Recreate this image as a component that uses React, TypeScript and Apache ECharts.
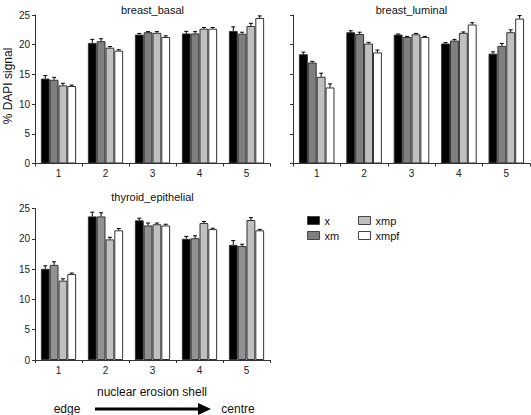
import React, { useEffect, useRef } from "react";
import * as echarts from "echarts";

const categories = ["1", "2", "3", "4", "5"];
const seriesNames = ["x", "xm", "xmp", "xmpf"];
const panelTitles = ["breast_basal", "breast_luminal", "thyroid_epithelial"];
const yTicks = [0, 25, 5];

const basalValues = [
  [14.3, 20.3, 21.7, 21.9, 22.3],
  [14.1, 20.6, 22.1, 21.9, 21.85],
  [13.15, 19.5, 22.0, 22.7, 23.15],
  [13.05, 19.0, 21.3, 22.7, 24.5],
];
const basalErrors = [
  [0.5, 0.6, 0.2, 0.35, 0.7],
  [0.4, 0.4, 0.1, 0.3, 0.25],
  [0.35, 0.2, 0.2, 0.2, 0.45],
  [0.15, 0.15, 0.2, 0.2, 0.35],
];

const luminalValues = [
  [18.4, 22.1, 21.7, 20.2, 18.5],
  [17.0, 21.8, 21.3, 20.7, 19.8],
  [14.6, 20.2, 21.75, 22.0, 22.1],
  [12.8, 18.7, 21.3, 23.4, 24.4],
];
const luminalErrors = [
  [0.35, 0.25, 0.1, 0.15, 0.3],
  [0.2, 0.3, 0.1, 0.2, 0.4],
  [0.6, 0.2, 0.15, 0.15, 0.4],
  [0.6, 0.4, 0.1, 0.3, 0.5],
];

const thyroidValues = [
  [15.05, 23.7, 23.05, 20.0, 19.0],
  [15.7, 23.7, 22.2, 20.1, 18.8],
  [13.1, 19.9, 22.4, 22.6, 23.1],
  [14.2, 21.4, 22.2, 21.6, 21.4],
];
const thyroidErrors = [
  [0.5, 0.7, 0.35, 0.4, 0.7],
  [0.5, 0.6, 0.4, 0.4, 0.3],
  [0.3, 0.35, 0.2, 0.25, 0.4],
  [0.15, 0.3, 0.2, 0.15, 0.15],
];

const FONT = "Liberation Sans, Arial, Helvetica, sans-serif";
const topColors = ["#000000", "#7f7f7f", "#c0c0c0", "#ffffff"];
const bottomColors = ["#000000", "#929292", "#c0c0c0", "#ffffff"];
const GAP = 0.25;

const grids = [
  { left: 35, top: 15, width: 235, height: 148.5 },
  { left: 293, top: 15, width: 237, height: 148.5 },
  { left: 35, top: 208.5, width: 235, height: 151.5 },
];

function App() {
  const ref = useRef<HTMLDivElement>(null);
  useEffect(() => {
    if (!ref.current) return;
    const chart = echarts.init(ref.current, null, { renderer: "svg" });
    const panels = [
      { values: basalValues, errors: basalErrors, colors: topColors },
      { values: luminalValues, errors: luminalErrors, colors: topColors },
      { values: thyroidValues, errors: thyroidErrors, colors: bottomColors },
    ];
    const series: any[] = [];
    panels.forEach((p, gi) => {
      seriesNames.forEach((name, si) => {
        series.push({
          type: "bar",
          name,
          xAxisIndex: gi,
          yAxisIndex: gi,
          data: p.values[si],
          barGap: 0,
          barCategoryGap: GAP * 100 + "%",
          itemStyle: { color: p.colors[si], borderColor: "#333", borderWidth: 1 },
          emphasis: { disabled: true },
        });
      });
      seriesNames.forEach((name, si) => {
        const data = p.values[si].map((v, ci) => [ci, v, p.errors[si][ci]]);
        series.push({
          type: "custom",
          name: "err_" + name,
          xAxisIndex: gi,
          yAxisIndex: gi,
          z: 5,
          encode: { x: 0, y: 1 },
          data,
          renderItem: (params: any, api: any) => {
            const ci = api.value(0);
            const v = api.value(1);
            const e = api.value(2);
            const base = api.coord([ci, v]);
            const top = api.coord([ci, v + e]);
            const band = api.size([1, 0])[0];
            const bw = (band * (1 - GAP)) / 4;
            const x = base[0] + (si - 1.5) * bw;
            const style = { stroke: "#000", lineWidth: 1 };
            return {
              type: "group",
              children: [
                { type: "line", shape: { x1: x, y1: base[1], x2: x, y2: top[1] }, style },
                { type: "line", shape: { x1: x - 2, y1: top[1], x2: x + 2, y2: top[1] }, style },
              ],
            };
          },
        });
      });
    });

    const axisLine = { show: true, lineStyle: { color: "#333", width: 1 } };
    const legendBase = {
      orient: "vertical",
      top: 210,
      itemWidth: 12,
      itemHeight: 8,
      itemGap: 4,
      icon: "rect",
      selectedMode: false,
      itemStyle: { borderColor: "#444", borderWidth: 1 },
      textStyle: { fontSize: 11, color: "#111", fontFamily: FONT },
    };
    const option: any = {
      animation: false,
      textStyle: { fontFamily: FONT },
      grid: grids.map((g) => ({ ...g, containLabel: false })),
      xAxis: grids.map((_, gi) => ({
        type: "category",
        gridIndex: gi,
        data: categories,
        axisLine,
        axisTick: { show: true, length: 3, lineStyle: { color: "#333" } },
        axisLabel: { fontSize: 10, color: "#222", margin: 5, fontFamily: FONT },
        splitLine: { show: false },
      })),
      yAxis: grids.map((_, gi) => ({
        type: "value",
        gridIndex: gi,
        min: yTicks[0],
        max: yTicks[1],
        interval: yTicks[2],
        axisLine,
        axisTick: { show: true, length: 3, lineStyle: { color: "#333" } },
        axisLabel: { show: gi !== 1, fontSize: 10, color: "#222", margin: 5, fontFamily: FONT },
        splitLine: { show: false },
      })),
      legend: [
        { ...legendBase, data: ["x", "xm"], left: 302 },
        { ...legendBase, data: ["xmp", "xmpf"], left: 353 },
      ],
      graphic: [
        { type: "text", x: 152.5, y: 9.5, style: { text: panelTitles[0], fontSize: 11, fontFamily: FONT, fill: "#111", align: "center", verticalAlign: "middle" } },
        { type: "text", x: 411.5, y: 9.5, style: { text: panelTitles[1], fontSize: 11, fontFamily: FONT, fill: "#111", align: "center", verticalAlign: "middle" } },
        { type: "text", x: 152.5, y: 197, style: { text: panelTitles[2], fontSize: 11, fontFamily: FONT, fill: "#111", align: "center", verticalAlign: "middle" } },
        { type: "text", x: 8, y: 86, rotation: Math.PI / 2, style: { text: "% DAPI signal", fontSize: 12, fontFamily: FONT, fill: "#111", align: "center", verticalAlign: "middle" } },
        { type: "text", x: 152, y: 392, style: { text: "nuclear erosion shell", fontSize: 12, fontFamily: FONT, fill: "#111", align: "center", verticalAlign: "middle" } },
        { type: "text", x: 67, y: 409, style: { text: "edge", fontSize: 12, fontFamily: FONT, fill: "#111", align: "center", verticalAlign: "middle" } },
        { type: "text", x: 238, y: 409, style: { text: "centre", fontSize: 12, fontFamily: FONT, fill: "#111", align: "center", verticalAlign: "middle" } },
        { type: "line", shape: { x1: 95, y1: 409, x2: 200, y2: 409 }, style: { stroke: "#000", lineWidth: 3 } },
        { type: "polygon", shape: { points: [[198, 403], [211, 409], [198, 415]] }, style: { fill: "#000" } },
      ],
      series,
    };
    chart.setOption(option);
    return () => chart.dispose();
  }, []);
  return (
    <div
      ref={ref}
      style={{ position: "fixed", left: 0, top: 0, width: 531, height: 415, background: "#fff" }}
    />
  );
}

export default App;
